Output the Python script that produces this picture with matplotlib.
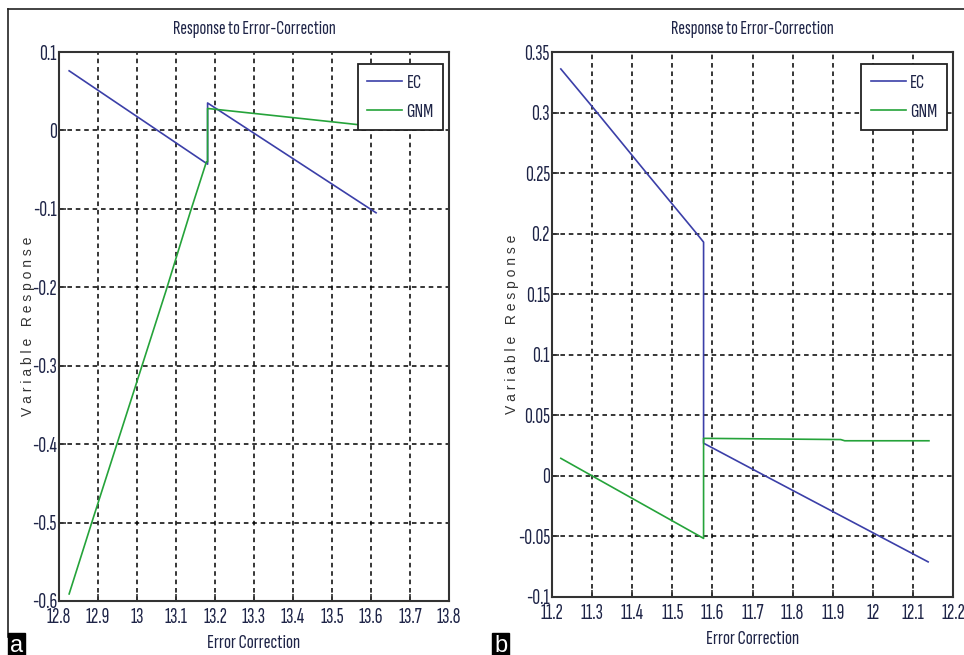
import matplotlib
matplotlib.use("Agg")
import matplotlib.pyplot as plt
from matplotlib import font_manager
from matplotlib.lines import Line2D

# ---------------- data ----------------
# Panel a
a_ec_x = [12.826, 13.181, 13.181, 13.613]
a_ec_y = [0.076, -0.043, 0.035, -0.105]
a_gnm_x = [12.826, 12.884, 13.0, 13.074, 13.136, 13.178, 13.181, 13.181, 13.2, 13.5, 13.61]
a_gnm_y = [-0.591, -0.50, -0.32, -0.205, -0.105, -0.040, -0.040, 0.028, 0.027, 0.011, 0.005]
a_xticks = [12.8, 12.9, 13.0, 13.1, 13.2, 13.3, 13.4, 13.5, 13.6, 13.7, 13.8]
a_xticklabels = ["12.8", "12.9", "13", "13.1", "13.2", "13.3", "13.4", "13.5", "13.6", "13.7", "13.8"]
a_yticks = [-0.6, -0.5, -0.4, -0.3, -0.2, -0.1, 0.0, 0.1]
a_yticklabels = ["-0.6", "-0.5", "-0.4", "-0.3", "-0.2", "-0.1", "0", "0.1"]

# Panel b
b_ec_x = [11.222, 11.300, 11.436, 11.561, 11.578, 11.578, 11.726, 12.138]
b_ec_y = [0.336, 0.305, 0.250, 0.200, 0.193, 0.027, 0.001, -0.071]
b_gnm_x = [11.222, 11.300, 11.578, 11.578, 11.92, 11.93, 12.14]
b_gnm_y = [0.0145, 0.0, -0.0516, 0.031, 0.030, 0.029, 0.029]
b_xticks = [11.2, 11.3, 11.4, 11.5, 11.6, 11.7, 11.8, 11.9, 12.0, 12.1, 12.2]
b_xticklabels = ["11.2", "11.3", "11.4", "11.5", "11.6", "11.7", "11.8", "11.9", "12", "12.1", "12.2"]
b_yticks = [-0.1, -0.05, 0.0, 0.05, 0.1, 0.15, 0.2, 0.25, 0.3, 0.35]
b_yticklabels = ["-0.1", "-0.05", "0", "0.05", "0.1", "0.15", "0.2", "0.25", "0.3", "0.35"]

series_names = ["EC", "GNM"]
title_text = "Response to Error-Correction"
xlabel_text = "Error Correction"
ylabel_text = "V a r i a b l e   R e s p o n s e"
panel_letters = ["a", "b"]

# ---------------- style ----------------
avail = {f.name for f in font_manager.fontManager.ttflist}

def pick(cands):
    for c in cands:
        if c in avail:
            return c
    return "DejaVu Sans"

narrow = pick(["Sofia Sans Extra Condensed", "Saira ExtraCondensed", "PT Sans Narrow",
               "Liberation Sans Narrow", "Liberation Sans"])
regular = pick(["Liberation Sans", "Arimo", "DejaVu Sans"])

C_EC = "#3b3fa8"
C_GNM = "#25a33a"
TXT = "#1e2447"

W, H = 964, 655
fig = plt.figure(figsize=(W / 100, H / 100), dpi=100)

def fx(px):
    return px / W

def fy(py):
    return 1 - py / H

panels = [
    dict(rect=[fx(59), fy(601), fx(449 - 59), (601 - 52) / H],
         ec=(a_ec_x, a_ec_y), gnm=(a_gnm_x, a_gnm_y),
         xlim=(12.8, 13.8), ylim=(-0.6, 0.1),
         xt=a_xticks, xtl=a_xticklabels, yt=a_yticks, ytl=a_yticklabels,
         ylx=28, letter_x=8),
    dict(rect=[fx(552), fy(597), fx(953 - 552), (597 - 52) / H],
         ec=(b_ec_x, b_ec_y), gnm=(b_gnm_x, b_gnm_y),
         xlim=(11.2, 12.2), ylim=(-0.1, 0.35),
         xt=b_xticks, xtl=b_xticklabels, yt=b_yticks, ytl=b_yticklabels,
         ylx=512, letter_x=492),
]

for i, p in enumerate(panels):
    ax = fig.add_axes(p["rect"])
    ax.plot(p["ec"][0], p["ec"][1], color=C_EC, lw=1.2, label=series_names[0], zorder=3)
    ax.plot(p["gnm"][0], p["gnm"][1], color=C_GNM, lw=1.2, label=series_names[1], zorder=3)
    ax.set_xlim(*p["xlim"])
    ax.set_ylim(*p["ylim"])
    ax.set_xticks(p["xt"])
    ax.set_xticklabels(p["xtl"], fontfamily=narrow, fontsize=15.5, color=TXT)
    ax.set_yticks(p["yt"])
    ax.set_yticklabels(p["ytl"], fontfamily=narrow, fontsize=15.5, color=TXT)
    ax.tick_params(direction="in", length=5, width=1.2, color="#333333", pad=1.5)
    ax.tick_params(axis="x", pad=5)
    ax.grid(True, color="black", linestyle=(0, (3, 2.5)), linewidth=1.1)
    for s in ax.spines.values():
        s.set_linewidth(1.5)
        s.set_color("#333333")
    ax.set_title(title_text, fontfamily=narrow, fontsize=14.5, color=TXT, pad=13)
    ax.set_xlabel(xlabel_text, fontfamily=narrow, fontsize=15, color=TXT, labelpad=5)
    leg = ax.legend(loc="upper right", bbox_to_anchor=(0.985, 0.978), borderaxespad=0,
                    prop={"family": narrow, "size": 15}, fancybox=False,
                    framealpha=1, edgecolor="#222222", handlelength=1.7,
                    handletextpad=0.2, labelspacing=0.5, borderpad=0.45)
    leg.get_frame().set_linewidth(1.3)
    for t in leg.get_texts():
        t.set_color(TXT)
    cy = p["rect"][1] + p["rect"][3] / 2
    fig.text(fx(p["ylx"]), cy, ylabel_text, rotation=90, ha="center", va="center",
             fontfamily=regular, fontsize=10, color="#333333")
    fig.text(fx(p["letter_x"] + 2), fy(657), panel_letters[i],
             ha="left", va="bottom", fontfamily=regular, fontsize=17, color="white",
             bbox=dict(boxstyle="square,pad=0.1", fc="black", ec="black"))

# border lines
fig.add_artist(Line2D([fx(8), 1.0], [fy(9), fy(9)], color="#222222", lw=1.2))
fig.add_artist(Line2D([fx(8), fx(8)], [fy(9), fy(637)], color="#222222", lw=1.2))

fig.savefig("out.png", dpi=100)
